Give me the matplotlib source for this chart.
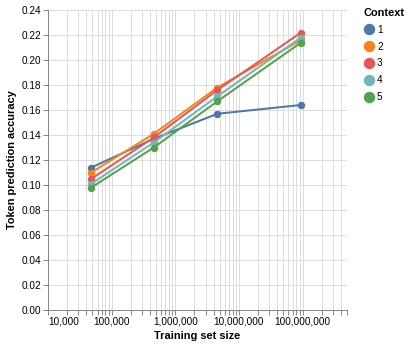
import numpy as np
import matplotlib.pyplot as plt
from matplotlib.ticker import FixedLocator, NullFormatter

plt.rcParams['font.family'] = ['Liberation Sans', 'DejaVu Sans']

# data
train_sizes = [48000, 460000, 4600000, 95000000]
contexts = ['1', '2', '3', '4', '5']
accuracy = {
    '1': [0.114, 0.137, 0.157, 0.164],
    '2': [0.110, 0.141, 0.178, 0.216],
    '3': [0.105, 0.138, 0.176, 0.222],
    '4': [0.101, 0.134, 0.171, 0.218],
    '5': [0.098, 0.130, 0.167, 0.214],
}
colors = ['#4c78a8', '#f58518', '#e45756', '#72b7b2', '#54a24b']

W, H = 411, 347
PX = 0.72  # points per pixel at dpi 100
fig = plt.figure(figsize=(W / 100, H / 100), dpi=100)
ax = fig.add_axes([48 / W, (H - 310) / H, 299 / W, 300 / H])

for ctx, col in zip(contexts, colors):
    ax.plot(train_sizes, accuracy[ctx], color=col, lw=2 * PX, marker='o',
            markersize=6 * PX, label=ctx, zorder=3)

ax.set_xscale('log')
ax.set_xlim(1e4, 5e8)
ax.set_ylim(0, 0.24)

# ticks and grid like vega-lite
major = [1e4, 1e5, 1e6, 1e7, 1e8]
minor = [m * 10 ** e for e in range(4, 9) for m in range(2, 10) if m * 10 ** e <= 5e8]
ax.xaxis.set_major_locator(FixedLocator(major))
ax.xaxis.set_minor_locator(FixedLocator(minor))
ax.xaxis.set_minor_formatter(NullFormatter())
ax.set_xticklabels([f'{int(v):,}' for v in major])
ax.get_xticklabels()[0].set_horizontalalignment('left')
ax.set_yticks(np.arange(0, 0.2401, 0.02))
ax.set_yticklabels([f'{v:.2f}' for v in np.arange(0, 0.2401, 0.02)])

ax.grid(True, which='both', color='#dddddd', lw=1 * PX, zorder=0)
ax.tick_params(which='both', length=5 * PX, width=PX, color='#888888',
               labelsize=10 * PX, labelcolor='black', pad=2 * PX)
for s in ['top', 'right']:
    ax.spines[s].set_visible(False)
for s in ['bottom', 'left']:
    ax.spines[s].set_color('#888888')
    ax.spines[s].set_linewidth(PX)
ax.set_axisbelow(True)

ax.set_xlabel('Training set size', fontsize=11 * PX, fontweight='bold', labelpad=4 * PX)
ax.set_ylabel('Token prediction accuracy', fontsize=11 * PX, fontweight='bold', labelpad=4 * PX)

handles = [plt.Line2D([], [], marker='o', ls='', color=c, markersize=10 * PX) for c in colors]
leg = fig.legend(handles, contexts, title='Context', loc='upper left',
                 bbox_to_anchor=(363 / W, 1 - 8 / H), frameon=False,
                 fontsize=10 * PX, handletextpad=0.2, labelspacing=0.68,
                 borderaxespad=0, borderpad=0, handlelength=1.2)
leg.get_title().set_fontweight('bold')
leg.get_title().set_fontsize(11 * PX)
leg._legend_box.align = 'left'

fig.savefig('out.png', dpi=100)
